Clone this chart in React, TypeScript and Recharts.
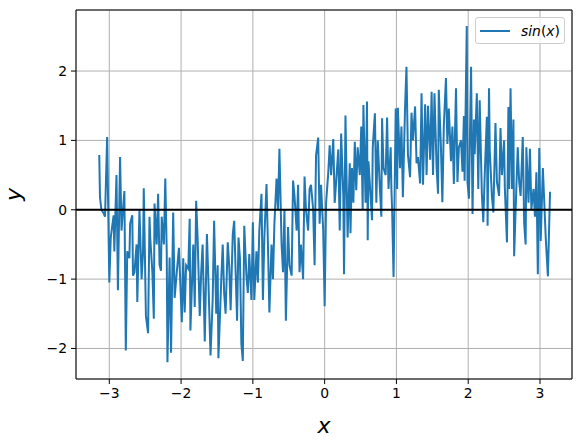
import React from "react";
import { LineChart, Line, XAxis, YAxis, CartesianGrid, ReferenceLine, Legend } from "recharts";

// sample positions (x in data units)
const xValues = [
  -3.14, -3.13, -3.11, -3.08, -3.06, -3.03, -3.0, -2.98, -2.94, -2.93,
  -2.9, -2.88, -2.85, -2.83, -2.81, -2.79, -2.77, -2.75, -2.72, -2.71,
  -2.68, -2.67, -2.65, -2.62, -2.61, -2.58, -2.55, -2.53, -2.52, -2.49,
  -2.46, -2.44, -2.43, -2.4, -2.38, -2.37, -2.34, -2.32, -2.3, -2.28,
  -2.27, -2.24, -2.22, -2.2, -2.19, -2.16, -2.14, -2.11, -2.09, -2.06,
  -2.03, -1.99, -1.97, -1.95, -1.93, -1.9, -1.88, -1.87, -1.83, -1.81,
  -1.79, -1.77, -1.74, -1.72, -1.7, -1.67, -1.64, -1.62, -1.59, -1.56,
  -1.54, -1.51, -1.49, -1.48, -1.44, -1.42, -1.4, -1.38, -1.35, -1.33,
  -1.31, -1.28, -1.26, -1.24, -1.22, -1.2, -1.18, -1.16, -1.14, -1.12,
  -1.09, -1.07, -1.05, -1.02, -1.0, -0.98, -0.95, -0.93, -0.91, -0.88,
  -0.86, -0.84, -0.81, -0.79, -0.77, -0.74, -0.72, -0.7, -0.67, -0.65,
  -0.63, -0.6, -0.58, -0.56, -0.54, -0.51, -0.49, -0.46, -0.44, -0.42,
  -0.39, -0.37, -0.35, -0.33, -0.3, -0.28, -0.26, -0.23, -0.21, -0.19,
  -0.16, -0.14, -0.12, -0.09, -0.07, -0.05, -0.02, 0.0, 0.02, 0.05,
  0.07, 0.09, 0.12, 0.14, 0.16, 0.19, 0.21, 0.23, 0.26, 0.27,
  0.29, 0.32, 0.35, 0.36, 0.38, 0.4, 0.42, 0.44, 0.46, 0.49,
  0.51, 0.53, 0.54, 0.57, 0.59, 0.6, 0.61, 0.64, 0.66, 0.67,
  0.7, 0.72, 0.74, 0.77, 0.79, 0.8, 0.82, 0.85, 0.87, 0.89,
  0.92, 0.93, 0.94, 0.96, 0.99, 1.01, 1.02, 1.05, 1.07, 1.09,
  1.12, 1.14, 1.16, 1.19, 1.21, 1.23, 1.26, 1.28, 1.3, 1.33,
  1.35, 1.37, 1.4, 1.42, 1.44, 1.47, 1.49, 1.51, 1.53, 1.56,
  1.58, 1.59, 1.62, 1.64, 1.66, 1.69, 1.71, 1.73, 1.76, 1.78,
  1.8, 1.83, 1.85, 1.87, 1.9, 1.92, 1.94, 1.95, 1.98, 1.99,
  2.01, 2.04, 2.06, 2.08, 2.09, 2.12, 2.14, 2.16, 2.19, 2.21,
  2.23, 2.26, 2.27, 2.29, 2.3, 2.33, 2.35, 2.38, 2.4, 2.43,
  2.45, 2.47, 2.5, 2.51, 2.54, 2.56, 2.57, 2.59, 2.61, 2.63,
  2.64, 2.67, 2.69, 2.71, 2.73, 2.76, 2.78, 2.8, 2.81, 2.84,
  2.86, 2.88, 2.91, 2.93, 2.95, 2.97, 2.99, 3.01, 3.04, 3.06,
  3.08, 3.11, 3.14,
];

// noisy sin(x) values
const yValues = [
  0.79, 0.18, 0.0, -0.05, -0.1, 1.05, -1.05, -0.4, -0.08, -0.6,
  0.5, -1.16, 0.76, -0.3, 0.0, 0.27, -2.03, -0.6, -0.7, -0.2,
  -0.08, -0.95, -0.9, -0.5, -1.33, 0.0, -1.0, -0.6, 0.31, -1.53,
  -1.78, -0.1, -0.4, -0.9, -1.57, 0.09, -0.5, 0.23, -0.79, -0.88,
  -0.1, -0.5, 0.45, -0.6, -2.2, -0.69, -2.06, -0.04, -1.27, -0.9,
  -0.55, -1.62, -0.7, -1.48, -0.8, -0.85, -0.13, -1.74, -0.5, -1.4,
  0.13, -0.4, -1.53, -0.9, -0.5, -1.9, -0.35, -1.0, -2.1, -1.3,
  -0.16, -1.5, -0.8, -2.14, -1.0, -0.5, -1.2, -1.5, -0.47, -0.8,
  -1.45, -0.35, -0.16, -0.9, -1.6, -0.4, -0.7, -1.94, -2.18, -0.23,
  -0.95, -1.2, -0.64, -1.3, -0.18, -1.3, -0.6, -1.05, -0.3, 0.23,
  -1.3, -0.4, 0.37, -0.5, -1.48, -0.5, -1.0, -0.2, 0.45, 0.0,
  0.88, -0.5, -0.9, 0.0, -1.6, -0.25, -0.8, -0.95, 0.42, 0.2,
  -0.3, 0.36, -0.9, -0.5, -1.0, 0.48, 0.0, -0.3, 0.3, 0.36,
  0.0, -0.8, 0.78, 1.04, -0.2, 0.36, -0.3, -1.39, 0.1, 0.53,
  0.93, 0.5, 1.02, 0.1, 0.4, 0.87, -0.3, 1.1, 0.2, -0.93,
  1.36, -0.4, 0.67, -0.34, 0.6, 0.1, 0.98, 0.28, 0.9, 0.5,
  1.2, 0.0, 1.51, 0.1, 1.56, -0.44, 0.7, 0.2, -0.15, 0.9,
  1.39, 0.1, 1.0, 0.3, -0.1, 1.32, 0.6, 0.5, 1.33, 0.3,
  0.9, 0.3, 0.0, -0.97, 1.46, 0.3, 1.47, 0.6, 1.2, 0.18,
  1.47, 2.06, 0.8, 0.47, 1.4, 1.0, 1.49, 0.67, 0.76, 0.38,
  1.68, 0.36, 1.52, 0.5, 1.5, 0.72, 1.7, 0.5, 1.68, 0.6,
  0.23, 1.73, 0.9, 0.11, 1.2, 1.9, 0.95, 1.46, 0.7, 1.2,
  0.37, 1.75, 0.4, 0.9, 1.0, 0.55, 1.35, 0.42, 2.65, 0.4,
  0.16, 2.06, -0.06, 1.3, 0.8, 1.68, 0.3, 1.58, 0.23, -0.18,
  0.5, 1.34, -0.23, 1.75, 0.86, 0.2, -0.04, 1.25, 0.4, 0.2,
  1.18, 0.5, 1.0, 0.32, -0.47, 1.48, 0.3, 1.75, 0.3, 1.3,
  -0.67, 0.3, 0.9, 0.4, 0.2, 1.05, -0.2, -0.5, 0.9, 0.1,
  0.88, 0.0, 0.3, -0.1, 0.54, -0.93, 0.89, -0.45, 0.6, 0.1,
  -0.4, -0.96, 0.26,
];

const xTicks = [-3, -2, -1, 0, 1, 2, 3];
const yTicks = [-2, -1, 0, 1, 2];
const xDomain = [-3.464, 3.446];
const yDomain = [-2.44, 2.88];

const data = xValues.map((x, i) => ({ x, y: yValues[i] }));

const FONT = "DejaVu Sans";
const LINE_COLOR = "#1f77b4";

// matplotlib uses a real minus sign
const fmt = (v: number) => (v < 0 ? `\u2212${Math.abs(v)}` : `${v}`);

const tickStyle = { fill: "#000", fontSize: 13.9, fontFamily: FONT };

const XTitle = (props: any) => {
  const vb = props.viewBox;
  return (
    <text x={vb.x + vb.width / 2} y={433} textAnchor="middle" fontFamily={FONT} fontStyle="italic" fontSize={22} fill="#000">
      x
    </text>
  );
};

const YTitle = (props: any) => {
  const vb = props.viewBox;
  const cy = vb.y + vb.height / 2;
  return (
    <text x={21} y={cy} transform={`rotate(-90, 21, ${cy})`} textAnchor="middle" fontFamily={FONT} fontStyle="italic" fontSize={22} fill="#000">
      y
    </text>
  );
};

const LegendBox = () => (
  <div
    style={{
      boxSizing: "border-box",
      width: 90,
      height: 27,
      border: "1px solid #cccccc",
      borderRadius: 3,
      background: "rgba(255,255,255,0.8)",
      display: "flex",
      alignItems: "center",
      fontFamily: FONT,
      fontSize: 13.9,
      color: "#000",
    }}
  >
    <svg width={30} height={4} style={{ marginLeft: 4 }}>
      <line x1={0} y1={2} x2={30} y2={2} stroke={LINE_COLOR} strokeWidth={2} />
    </svg>
    <span style={{ marginLeft: 11 }}>
      <i>sin</i>(<i>x</i>)
    </span>
  </div>
);

export default function App() {
  return (
    <div style={{ position: "absolute", left: 0, top: 0, background: "#fff" }}>
      <LineChart width={580} height={442} data={data} margin={{ top: 10, right: 8, bottom: 0, left: 0 }}>
        <CartesianGrid stroke="#b0b0b0" strokeWidth={1} />
        <XAxis
          type="number"
          dataKey="x"
          domain={xDomain}
          ticks={xTicks}
          allowDataOverflow
          tickFormatter={fmt}
          tick={tickStyle}
          tickLine={{ stroke: "#000" }}
          axisLine={{ stroke: "#000" }}
          tickSize={5}
          tickMargin={4}
          height={63}
          label={<XTitle />}
        />
        <YAxis
          type="number"
          domain={yDomain}
          ticks={yTicks}
          allowDataOverflow
          tickFormatter={fmt}
          tick={tickStyle}
          tickLine={{ stroke: "#000" }}
          axisLine={{ stroke: "#000" }}
          tickSize={5}
          tickMargin={4}
          width={76}
          label={<YTitle />}
        />
        <Line type="linear" dataKey="y" name="sin(x)" stroke={LINE_COLOR} strokeWidth={2} dot={false} activeDot={false} isAnimationActive={false} />
        <ReferenceLine y={0} stroke="#000" strokeWidth={2} />
        {/* top and right spines */}
        <ReferenceLine y={yDomain[1]} stroke="#000" strokeWidth={1} />
        <ReferenceLine x={xDomain[1]} stroke="#000" strokeWidth={1} />
        <Legend
          layout="vertical"
          align="center"
          verticalAlign="middle"
          wrapperStyle={{ left: 475, top: 17, width: 90, height: 27 }}
          content={() => <LegendBox />}
        />
      </LineChart>
    </div>
  );
}
